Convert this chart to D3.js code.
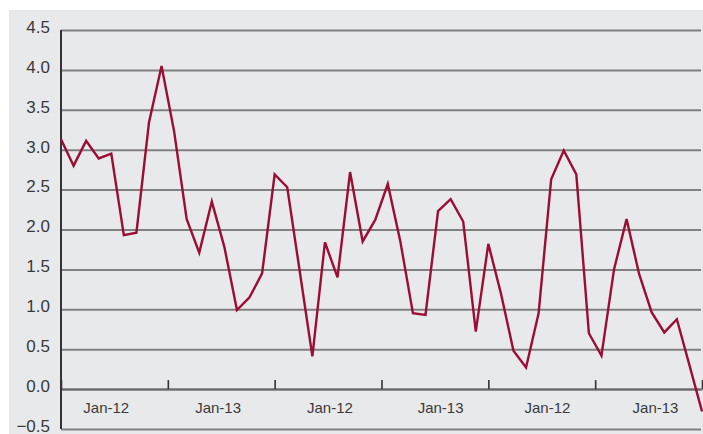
<!DOCTYPE html>
<html>
<head>
<meta charset="utf-8">
<script src="https://cdn.jsdelivr.net/npm/d3@7"></script>
<style>
  html, body { margin: 0; padding: 0; background: #fff; }
  svg { display: block; }
  text { font-family: "Liberation Sans", Arial, sans-serif; fill: #3a3a3a; }
</style>
</head>
<body>
<svg id="chart" width="703" height="434"></svg>
<script>
// ---- data ----
const values = [3.13, 2.80, 3.11, 2.89, 2.95, 1.93, 1.96, 3.34, 4.05, 3.23,
  2.13, 1.71, 2.35, 1.78, 0.99, 1.15, 1.45, 2.69, 2.53, 1.47,
  0.41, 1.84, 1.40, 2.72, 1.85, 2.12, 2.57, 1.85, 0.95, 0.93,
  2.23, 2.38, 2.10, 0.72, 1.82, 1.20, 0.48, 0.27, 0.95, 2.63,
  2.99, 2.69, 0.70, 0.42, 1.50, 2.13, 1.44, 0.96, 0.71, 0.875,
  0.30, -0.28];
const yTicks = [-0.5, 0, 0.5, 1, 1.5, 2, 2.5, 3, 3.5, 4, 4.5];
const xTickIdx = [0, 8.5, 17, 25.5, 34, 42.5, 51];
const xLabels = ["Jan-12", "Jan-13", "Jan-12", "Jan-13", "Jan-12", "Jan-13"];
const xLabelIdx = [3.6, 12.5, 21.4, 30.2, 38.7, 47.3];

// ---- layout ----
const svg = d3.select("#chart");
const mLeft = 61, mRight = 702, mTop = 30, mBottom = 429;

const x = d3.scaleLinear().domain([0, values.length - 1]).range([mLeft, mRight]);
const y = d3.scaleLinear().domain([-0.5, 4.5]).range([mBottom, mTop]);

// background
svg.append("rect").attr("x", 9).attr("y", 10).attr("width", 694).attr("height", 424)
  .attr("fill", "#e8e9eb");

// gridlines
svg.append("g").attr("transform", `translate(${mLeft},0)`)
  .call(d3.axisRight(y).tickValues(yTicks).tickSize(mRight - 1 - mLeft).tickFormat(""))
  .call(g => g.select(".domain").remove())
  .call(g => g.selectAll("line").attr("stroke", "#808080").attr("stroke-width", 2));

// y labels
svg.append("g").attr("transform", `translate(${mLeft},0)`)
  .call(d3.axisLeft(y).tickValues(yTicks).tickSize(0).tickPadding(11).tickFormat(d3.format(".1f")))
  .call(g => g.select(".domain").remove())
  .call(g => g.selectAll("text").attr("font-size", 17).attr("dy", "0.14em")
    .style("font-family", "'Liberation Sans', Arial, sans-serif").attr("fill", "#3a3a3a"));

// zero axis line with upward ticks
svg.append("g").attr("transform", `translate(0,${y(0)})`)
  .call(d3.axisTop(x).tickValues(xTickIdx).tickSize(9).tickSizeOuter(0).tickFormat(""))
  .call(g => g.select(".domain").attr("stroke", "#6a6a6a").attr("stroke-width", 2))
  .call(g => g.selectAll(".tick line").attr("stroke", "#333").attr("stroke-width", 1.6));

// x labels
svg.append("g").selectAll("text").data(xLabels).join("text")
  .attr("x", (d, i) => x(xLabelIdx[i]))
  .attr("y", 413)
  .attr("text-anchor", "middle")
  .attr("font-size", 15)
  .text(d => d);

// left axis line
svg.append("line").attr("x1", mLeft).attr("x2", mLeft).attr("y1", mTop).attr("y2", mBottom)
  .attr("stroke", "#333").attr("stroke-width", 2);

// series line
svg.append("path").datum(values)
  .attr("fill", "none")
  .attr("stroke", "#9b0d35")
  .attr("stroke-width", 2.4)
  .attr("stroke-linejoin", "miter")
  .attr("d", d3.line().x((d, i) => x(i)).y(d => y(d)));
</script>
</body>
</html>
